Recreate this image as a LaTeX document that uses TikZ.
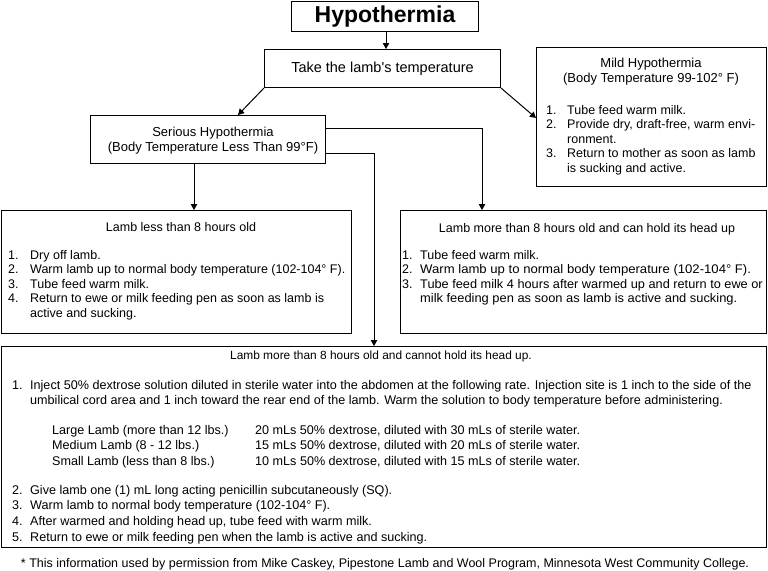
\documentclass[tikz,border=0pt]{standalone}
\usepackage{fontspec}
\setmainfont{Liberation Sans}
\usetikzlibrary{arrows.meta}
\tikzset{
  box/.style={draw=black, line width=1pt, inner sep=0pt, anchor=north west},
  arr/.style={line width=1pt, -{Triangle[width=6.5pt,length=6pt]}},
  txt/.style={inner sep=0pt, anchor=base west},
  ctxt/.style={inner sep=0pt, anchor=base},
  titlef/.style={font=\fontsize{13}{15}\selectfont},
  bodyf/.style={font=\fontsize{12.5}{14.6}\selectfont},
  botf/.style={font=\fontsize{12.6}{15.7}\selectfont},
}
\begin{document}
\begin{tikzpicture}[x=1pt,y=-1pt]
\useasboundingbox (0,0) rectangle (768,570);
% boxes
\node[box, minimum width=187pt, minimum height=30pt, font=\bfseries\fontsize{23}{26}\selectfont] (hyp) at (291,1) {Hypothermia};
\node[box, minimum width=236pt, minimum height=38pt, font=\fontsize{14.5}{17}\selectfont] (take) at (264,49) {Take the lamb\textquotesingle s temperature};
\node[box, minimum width=230pt, minimum height=139pt] (mild) at (536,47) {};
\node[box, minimum width=235pt, minimum height=48pt] (serious) at (90,115) {};
\node[box, minimum width=350pt, minimum height=123pt] (left) at (1,210) {};
\node[box, minimum width=366pt, minimum height=123pt] (right) at (400,210) {};
\node[box, minimum width=765pt, minimum height=201pt] (bottom) at (1,346) {};
% mild text
\node[ctxt, titlef] (mildt) at (651,67) {\begin{tabular}[t]{@{}c@{}}Mild Hypothermia\\(Body Temperature 99-102\textdegree\ F)\end{tabular}};
\node[txt, bodyf] (mildl) at (546,114) {\begin{tabular}[t]{@{}p{21pt}@{}l@{}}
1. & Tube feed warm milk.\\
2. & Provide dry, draft-free, warm envi-\\
 & ronment.\\
3. & Return to mother as soon as lamb\\
 & is sucking and active.
\end{tabular}};
% serious text
\node[ctxt, titlef] (sert) at (213,136) {\begin{tabular}[t]{@{}c@{}}Serious Hypothermia\\(Body Temperature Less Than 99\textdegree F)\end{tabular}};
% left text
\node[ctxt, bodyf] (leftt) at (181,231) {Lamb less than 8 hours old};
\node[txt, bodyf] (leftl) at (8,259) {\begin{tabular}[t]{@{}p{22pt}@{}l@{}}
1. & Dry off lamb.\\
2. & Warm lamb up to normal body temperature (102-104\textdegree\ F).\\
3. & Tube feed warm milk.\\
4. & Return to ewe or milk feeding pen as soon as lamb is\\
 & active and sucking.
\end{tabular}};
% right text
\node[ctxt, bodyf] (rightt) at (587,232) {Lamb more than 8 hours old and can hold its head up};
\node[txt, bodyf] (rightl) at (402,259) {\begin{tabular}[t]{@{}p{18pt}@{}l@{}}
1. & Tube feed warm milk.\\
2. & \scalebox{1.05}[1]{Warm lamb up to normal body temperature (102-104\textdegree\ F).}\\
3. & \scalebox{1.02}[1]{Tube feed milk 4 hours after warmed up and return to ewe or}\\
 & \scalebox{1.03}[1]{milk feeding pen as soon as lamb is active and sucking.}
\end{tabular}};
% bottom text
\node[ctxt, font=\fontsize{11.9}{15}\selectfont] (bott) at (381,359) {Lamb more than 8 hours old and cannot hold its head up.};
\node[txt, botf] (botl1) at (12,389) {\begin{tabular}[t]{@{}p{18pt}@{}l@{}}
1. & Inject 50\% dextrose solution diluted in sterile water into the abdomen at the following rate. Injection site is 1 inch to the side of the\\
 & umbilical cord area and 1 inch toward the rear end of the lamb. Warm the solution to body temperature before administering.
\end{tabular}};
\node[txt, font=\fontsize{12.6}{15.5}\selectfont] (bottab) at (52,434) {\begin{tabular}[t]{@{}p{203pt}@{}l@{}}
Large Lamb (more than 12 lbs.) & 20 mLs 50\% dextrose, diluted with 30 mLs of sterile water.\\
Medium Lamb (8 - 12 lbs.) & 15 mLs 50\% dextrose, diluted with 20 mLs of sterile water.\\
Small Lamb (less than 8 lbs.) & 10 mLs 50\% dextrose, diluted with 15 mLs of sterile water.
\end{tabular}};
\node[txt, botf] (botl2) at (12,494) {\begin{tabular}[t]{@{}p{18pt}@{}l@{}}
2. & Give lamb one (1) mL long acting penicillin subcutaneously (SQ).\\
3. & Warm lamb to normal body temperature (102-104\textdegree\ F).\\
4. & After warmed and holding head up, tube feed with warm milk.\\
5. & Return to ewe or milk feeding pen when the lamb is active and sucking.
\end{tabular}};
\node[ctxt, font=\fontsize{12.5}{15}\selectfont] (foot) at (385,567) {* This information used by permission from Mike Caskey, Pipestone Lamb and Wool Program, Minnesota West Community College.};
% connector points
\coordinate (a0) at (386,0);
\coordinate (s1) at (238,115);
\coordinate (m1) at (536,118);
\coordinate (a1) at (194,0);
\coordinate (r1) at (482,128);
\coordinate (b1) at (374,153);
% connectors
\draw[arr] (hyp.south -| a0) -- (take.north -| a0);
\draw[arr] (take.south west) -- (s1);
\draw[arr] (take.south east) -- (m1);
\draw[arr] (serious.south -| a1) -- (left.north -| a1);
\draw[arr] (serious.east |- r1) -- (r1) -- (r1 |- right.north);
\draw[arr] (serious.east |- b1) -- (b1) -- (b1 |- bottom.north);
\end{tikzpicture}
\end{document}
